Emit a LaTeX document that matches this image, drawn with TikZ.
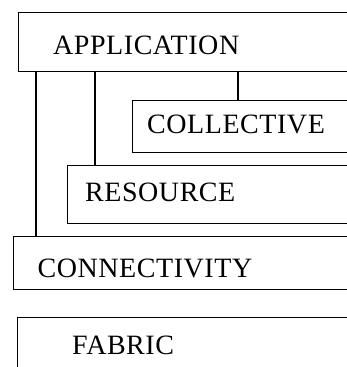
\documentclass[tikz,border=0pt]{standalone}
\usepackage{fontspec}
\setmainfont[LetterSpace=2]{Liberation Serif}
\usetikzlibrary{positioning}

\begin{document}
\begin{tikzpicture}[
  x=1pt, y=-1pt,
  layerbox/.style={rectangle, draw=black, line width=1.2pt, anchor=north west, inner sep=0pt, minimum width=360pt},
  layertext/.style={anchor=base west, inner sep=0pt, font=\fontsize{28}{34}\selectfont},
  drop/.style={line width=1.2pt}
]
\useasboundingbox (0,0) rectangle (347,367);
\clip (0,0) rectangle (347,367);

% the layer boxes run off to the right
\node (app) at (18,12)    [layerbox, minimum height=59pt] {};
\node (col) at (132,100)  [layerbox, minimum height=51.5pt] {};
\node (res) at (67,165)   [layerbox, minimum height=57.5pt] {};
\node (con) at (12.5,236) [layerbox, minimum height=53pt] {};
\node (fab) at (16.5,317) [layerbox, minimum height=70pt] {};

\node (appT) at (53,54.5)   [layertext] {APPLICATION};
\node (colT) at (147,133.5) [layertext] {COLLECTIVE};
\node (resT) at (85,201.5)  [layertext] {RESOURCE};
\node (conT) at (37.5,277)  [layertext] {CONNECTIVITY};
\node (fabT) at (72,354)    [layertext] {FABRIC};

\coordinate (d1) at (36,0);
\coordinate (d2) at (95,0);
\coordinate (d3) at (238,0);

\draw [drop] (app.south -| d1) -- (con.north -| d1);
\draw [drop] (app.south -| d2) -- (res.north -| d2);
\draw [drop] (app.south -| d3) -- (col.north -| d3);

\end{tikzpicture}
\end{document}
